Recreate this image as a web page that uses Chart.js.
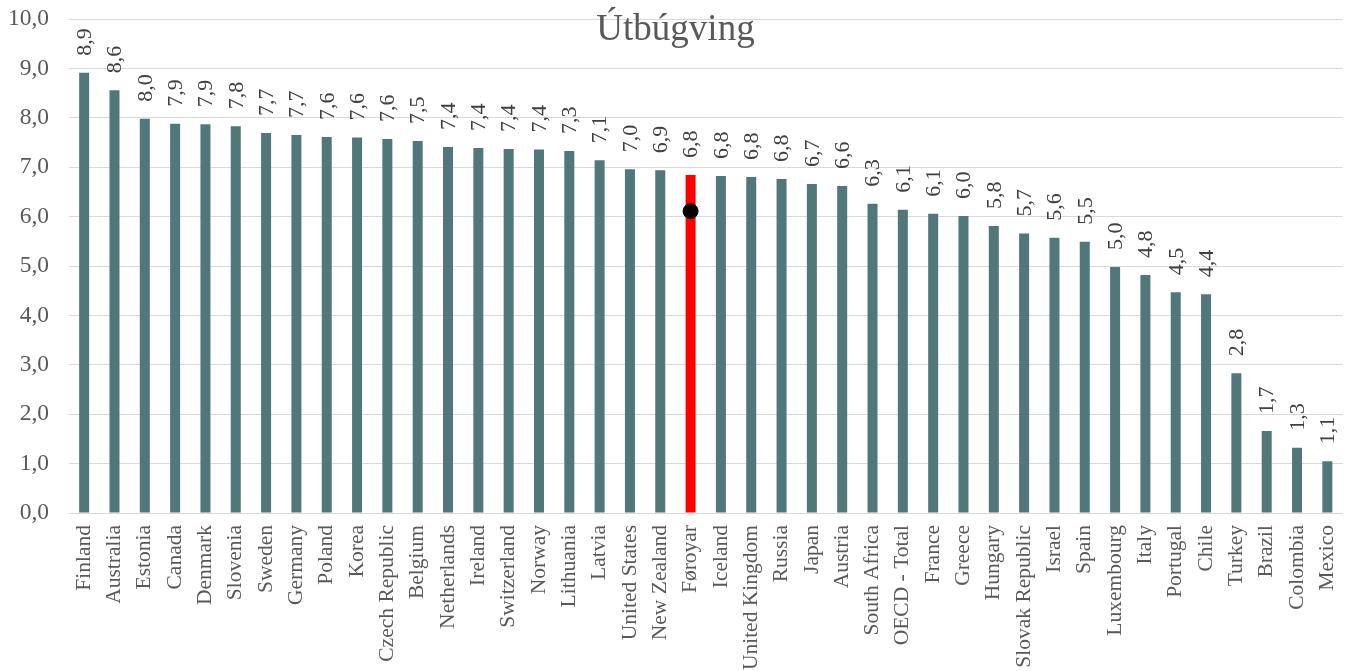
<!DOCTYPE html>
<html>
<head>
<meta charset="utf-8">
<script src="https://cdn.jsdelivr.net/npm/chart.js@4"></script>
<style>
    html, body { margin: 0; padding: 0; background: #fff; }
    #wrap { position: relative; width: 1351px; height: 671px; }
    #title {
        position: absolute; left: 0; top: 6px; width: 1351px;
        text-align: center; font: 37px "Liberation Serif", serif; color: #595959;
        margin: 0; font-weight: normal; pointer-events: none;
    }
</style>
</head>
<body>
<div id="wrap">
    <canvas id="chart" width="1351" height="671"></canvas>
    <h1 id="title">Útbúgving</h1>
</div>
<script>
// Data
const countries = ['Finland', 'Australia', 'Estonia', 'Canada', 'Denmark', 'Slovenia', 'Sweden', 'Germany',
    'Poland', 'Korea', 'Czech Republic', 'Belgium', 'Netherlands', 'Ireland', 'Switzerland', 'Norway',
    'Lithuania', 'Latvia', 'United States', 'New Zealand', 'Føroyar', 'Iceland', 'United Kingdom', 'Russia',
    'Japan', 'Austria', 'South Africa', 'OECD - Total', 'France', 'Greece', 'Hungary', 'Slovak Republic',
    'Israel', 'Spain', 'Luxembourg', 'Italy', 'Portugal', 'Chile', 'Turkey', 'Brazil', 'Colombia', 'Mexico'];
const scores = [8.91, 8.56, 7.98, 7.88, 7.87, 7.83, 7.69, 7.65, 7.61, 7.60, 7.57, 7.53, 7.41, 7.39, 7.37, 7.36,
    7.33, 7.14, 6.96, 6.94, 6.84, 6.82, 6.80, 6.76, 6.66, 6.62, 6.26, 6.14, 6.06, 6.01, 5.81, 5.66,
    5.57, 5.49, 4.98, 4.82, 4.47, 4.43, 2.83, 1.66, 1.32, 1.05];
const highlight = 'Føroyar';
const markerValue = 6.11;
const yTicks = [0, 1, 2, 3, 4, 5, 6, 7, 8, 9, 10];

const barColor = '#52777A';
const highlightColor = '#FF0000';
const textColor = '#595959';
const serif = '"Liberation Serif", "Times New Roman", serif';

const hlIndex = countries.indexOf(highlight);
const markerData = countries.map((c, i) => i === hlIndex ? markerValue : null);

const fmt = v => v.toFixed(1).replace('.', ',');

// rotated value labels above the bars
const valueLabels = {
    id: 'valueLabels',
    afterDatasetsDraw(chart) {
        const ctx = chart.ctx;
        const meta = chart.getDatasetMeta(1);
        ctx.save();
        ctx.fillStyle = '#404040';
        ctx.font = '22px ' + serif;
        ctx.textAlign = 'left';
        ctx.textBaseline = 'middle';
        meta.data.forEach((bar, i) => {
            ctx.save();
            ctx.translate(bar.x + 1, bar.y - 17);
            ctx.rotate(-Math.PI / 2);
            ctx.fillText(fmt(scores[i]), 0, 0);
            ctx.restore();
        });
        ctx.restore();
    }
};

new Chart(document.getElementById('chart'), {
    data: {
        labels: countries,
        datasets: [{
            type: 'line',
            data: markerData,
            showLine: false,
            pointRadius: 7.5,
            pointHoverRadius: 7.5,
            pointBackgroundColor: '#000',
            pointBorderColor: '#000',
            order: 0
        }, {
            type: 'bar',
            data: scores,
            backgroundColor: countries.map(c => c === highlight ? highlightColor : barColor),
            barPercentage: 0.33,
            categoryPercentage: 1,
            order: 1
        }]
    },
    options: {
        responsive: false,
        animation: false,
        layout: { padding: { left: 7, right: 1, top: 19, bottom: 0 } },
        plugins: {
            legend: { display: false },
            tooltip: { enabled: false }
        },
        scales: {
            x: {
                grid: { display: false, drawTicks: false },
                border: { color: '#d9d9d9', width: 1 },
                ticks: {
                    color: textColor,
                    font: { family: serif, size: 21.5 },
                    minRotation: 90,
                    maxRotation: 90,
                    autoSkip: false,
                    padding: 12
                },
                afterFit: axis => {
                    axis.height = 158;
                    axis.paddingLeft = 0;
                    axis.paddingRight = 0;
                }
            },
            y: {
                min: 0,
                max: 10,
                afterBuildTicks: axis => { axis.ticks = yTicks.map(v => ({ value: v })); },
                grid: { color: '#d9d9d9', lineWidth: 1, drawTicks: false },
                border: { display: false },
                ticks: {
                    color: textColor,
                    font: { family: serif, size: 23.5 },
                    padding: 20,
                    callback: v => fmt(v)
                },
                afterFit: axis => {
                    axis.width = 62;
                    axis.paddingTop = 0;
                    axis.paddingBottom = 0;
                }
            }
        }
    },
    plugins: [valueLabels]
});
</script>
</body>
</html>
